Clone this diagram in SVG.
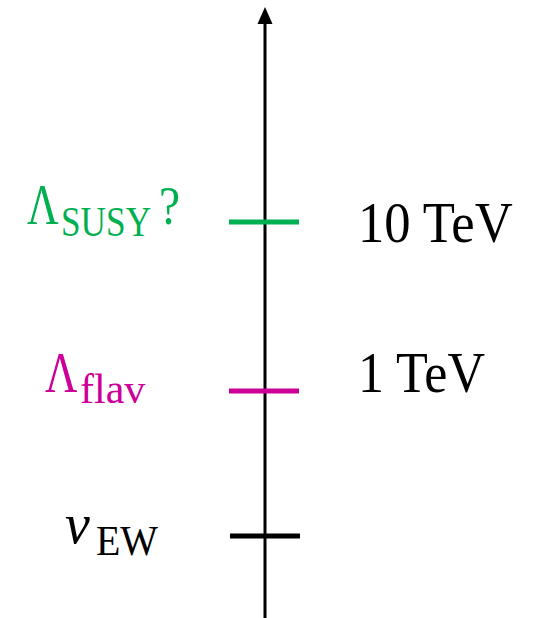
<svg xmlns="http://www.w3.org/2000/svg" width="541" height="618" viewBox="0 0 541 618">
<style>
text{font-family:"Liberation Serif","DejaVu Serif",serif;}
.big{font-size:56px;}
.sub{font-size:42px;}
.green{fill:#00B050;}
.pink{fill:#CC0099;}
.black{fill:#000;}
.tick{stroke-width:5;fill:none;}
</style>
<g id="connectors">
<line x1="265" y1="618" x2="265" y2="22" stroke="#000" stroke-width="3"/>
<path d="M257.5,24 L265,7 L272.5,24 Z" fill="#000"/>
</g>
<g id="tick-susy">
<line class="tick" x1="229" y1="222" x2="299" y2="222" stroke="#00B050"/>
</g>
<g id="tick-flav">
<line class="tick" x1="229" y1="391" x2="299" y2="391" stroke="#CC0099"/>
</g>
<g id="tick-ew">
<line class="tick" x1="230" y1="536" x2="300" y2="536" stroke="#000"/>
</g>
<g id="label-susy">
<text class="big green" transform="translate(27,224) scale(0.78,1)">Λ</text>
<text class="sub green" transform="translate(61,236) scale(0.84,1)">SUSY</text>
<text class="big green" transform="translate(159,224) scale(0.85,1)">?</text>
</g>
<g id="label-flav">
<text class="big pink" transform="translate(45,392) scale(0.8,1)">Λ</text>
<text class="sub pink" transform="translate(80,403)">flav</text>
</g>
<g id="label-ew">
<text class="big black" transform="translate(65,543)" font-style="italic">v</text>
<text class="sub black" transform="translate(96,555) scale(0.95,1)">EW</text>
</g>
<g id="label-10tev">
<text class="big black" transform="translate(358,242) scale(0.94,1)">10 TeV</text>
</g>
<g id="label-1tev">
<text class="big black" transform="translate(358,392) scale(0.93,1)">1 TeV</text>
</g>
</svg>
